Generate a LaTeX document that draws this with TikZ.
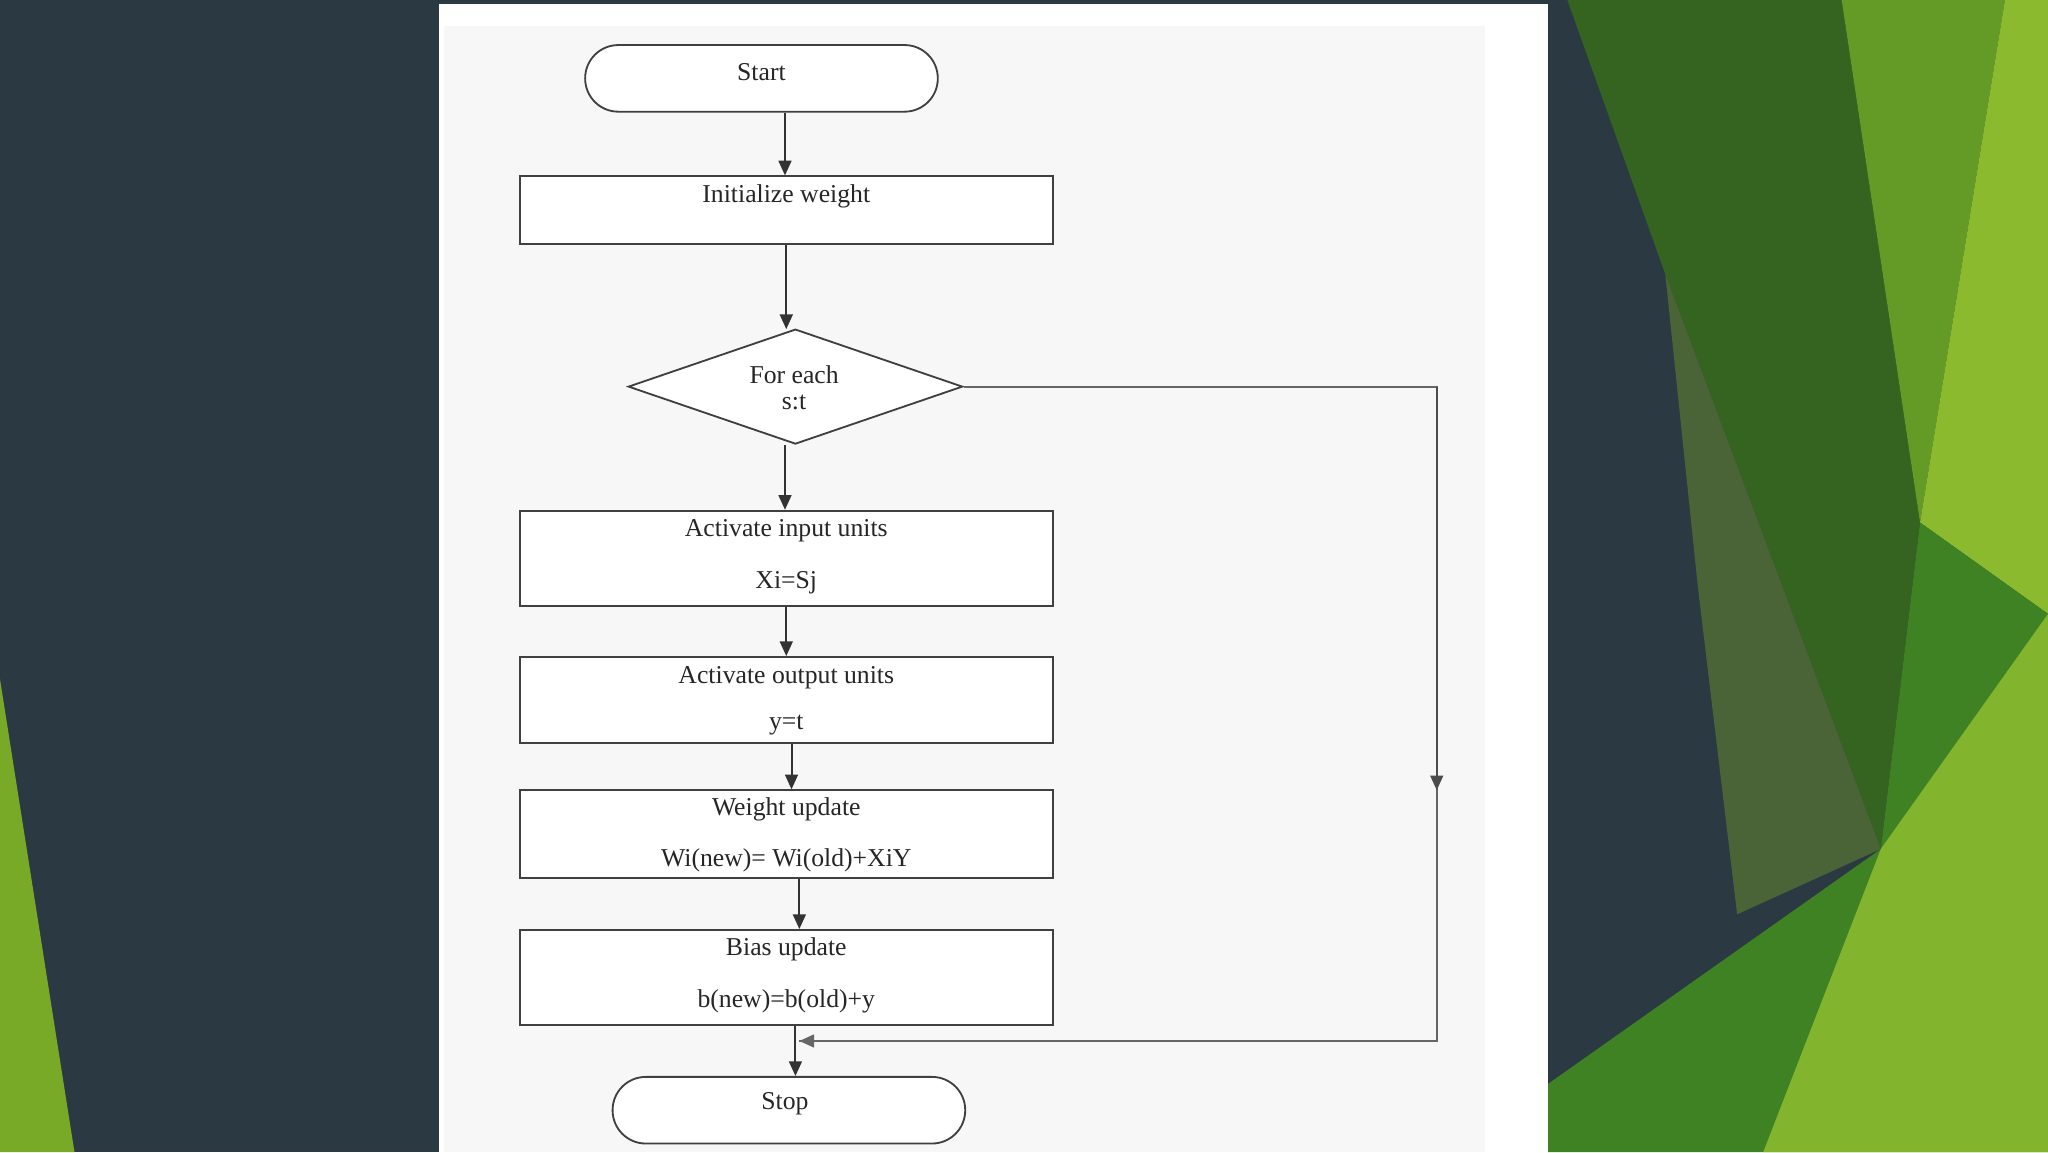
\documentclass[tikz,border=0pt]{standalone}
\usepackage{fontspec}
\setmainfont{Liberation Serif}
\usetikzlibrary{shapes.geometric,arrows.meta}
\begin{document}
\begin{tikzpicture}[x=0.05cm,y=-0.05cm,
  box/.style={draw=black!75,line width=2pt,fill=white,inner sep=0pt},
  term/.style={box,rounded corners=1.27cm,minimum width=13.5cm,minimum height=2.55cm},
  txt/.style={font=\fontsize{28}{30}\selectfont,text=black!85,inner sep=0pt},
  arr/.style={draw=black!80,line width=2.2pt,-{Triangle[length=16pt,width=14pt]}}]
\fill[fill={rgb,255:red,43;green,58;blue,66}] (0,0) rectangle (1568,882);
\useasboundingbox (0,0) rectangle (1568,882);
% left green
\fill[fill={rgb,255:red,120;green,170;blue,40}] (0,520) -- (57,882) -- (0,882) -- cycle;
% right greens
\fill[fill={rgb,255:red,52;green,100;blue,32}] (1200,0) -- (1410,0) -- (1470,400) -- (1440,650) -- (1275,210) -- cycle;
\fill[fill={rgb,255:red,100;green,155;blue,38}] (1410,0) -- (1535,0) -- (1470,400) -- cycle;
\fill[fill={rgb,255:red,140;green,186;blue,46}] (1535,0) -- (1568,0) -- (1568,470) -- (1470,400) -- cycle;
\fill[fill={rgb,255:red,75;green,100;blue,55}] (1275,210) -- (1440,650) -- (1330,700) -- (1300,450) -- cycle;
\fill[fill={rgb,255:red,62;green,130;blue,35}] (1185,830) -- (1440,650) -- (1470,400) -- (1568,470) -- (1568,882) -- (1185,882) -- cycle;
\fill[fill={rgb,255:red,130;green,180;blue,45}] (1440,650) -- (1568,470) -- (1568,882) -- (1350,882) -- cycle;
% panel
\fill[white] (336,3) rectangle (1185,882);
\fill[fill={rgb,255:red,247;green,247;blue,247}] (340,20) rectangle (1137,882);
% nodes
\node[term] (start) at (583,60) {};
\node[txt] at (583,55) {Start};
\node[box,minimum width=20.4cm,minimum height=2.6cm] (init) at (602,161) {};
\node[txt] at (602,150) {Initialize weight};
\node[box,diamond,aspect=2.9,minimum width=12.8cm,minimum height=4.4cm] (dec) at (609,296) {};
\node[txt,align=center] at (608,297) {For each\\[-2pt]s:t};
\node[box,minimum width=20.4cm,minimum height=3.65cm] (act) at (602,427.5) {};
\node[txt] at (602,406) {Activate input units};
\node[txt] at (602,446) {Xi=Sj};
\node[box,minimum width=20.4cm,minimum height=3.3cm] (out) at (602,536) {};
\node[txt] at (602,519) {Activate output units};
\node[txt] at (602,555) {y=t};
\node[box,minimum width=20.4cm,minimum height=3.35cm] (wu) at (602,638.5) {};
\node[txt] at (602,620) {Weight update};
\node[txt] at (602,659) {Wi(new)= Wi(old)+XiY};
\node[box,minimum width=20.4cm,minimum height=3.65cm] (bu) at (602,748.5) {};
\node[txt] at (602,727) {Bias update};
\node[txt] at (602,767) {b(new)=b(old)+y};
\node[term] (stop) at (604,850) {};
\node[txt] at (601,845) {Stop};
% arrows
\draw[arr] (start.south -| 601,0) -- (init.north -| 601,0);
\draw[arr] (init.south -| 602,0) -- (602,252);
\draw[arr] (601,341) -- (act.north -| 601,0);
\draw[arr] (act.south -| 602,0) -- (out.north -| 602,0);
\draw[arr] (out.south -| 606,0) -- (wu.north -| 606,0);
\draw[arr] (wu.south -| 612,0) -- (bu.north -| 612,0);
\draw[arr] (bu.south -| 609,0) -- (stop.north -| 609,0);
\coordinate (c1) at (1100,296);
\coordinate (c2) at (1100,797);
\coordinate (c3) at (612,797);
\draw[draw=black!60,line width=2pt] (dec.east) -- (c1) -- (c2) -- (c3);
\draw[arr,draw=black!60] (c2) -- (c3);
\draw[arr,draw=black!70] (c1) -- (1100,605);
\end{tikzpicture}
\end{document}
